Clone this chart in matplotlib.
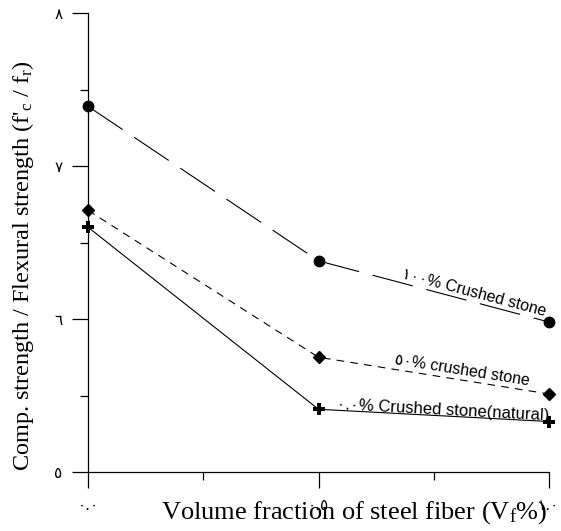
import numpy as np
import matplotlib
matplotlib.use("Agg")
import matplotlib.pyplot as plt

plt.rcParams["lines.scale_dashes"] = False
plt.rcParams["mathtext.fontset"] = "custom"
plt.rcParams["mathtext.rm"] = "Liberation Serif"
plt.rcParams["mathtext.it"] = "Liberation Serif:italic"

# Volume fraction of steel fiber (%)
fiber = [0.0, 0.5, 1.0]

# Compressive / flexural strength ratio for each aggregate mix
crushed_100 = [7.39, 6.38, 5.98]
crushed_50 = [6.71, 5.75, 5.51]
crushed_0 = [6.60, 5.41, 5.33]

series_labels = ["١٠٠% Crushed stone", "٥٠% crushed stone", "٠.٠% Crushed stone(natural)"]

x_ticks = [0.0, 0.5, 1.0]
x_ticklabels = ["٠.٠", "٠.٥", "١.٠"]
y_ticks = [5, 6, 7, 8]
y_ticklabels = ["٥", "٦", "٧", "٨"]

fig = plt.figure(figsize=(5.61, 5.31), dpi=100)
ax = fig.add_axes([88 / 561, 59 / 531, 461 / 561, 459 / 531])

lw = 0.8
ax.plot(fiber, crushed_100, color="black", lw=lw, marker="o", ms=7.5,
        dashes=(30, 10), clip_on=False, zorder=3)
ax.plot(fiber, crushed_50, color="black", lw=lw, marker="D", ms=6,
        dashes=(5.5, 4.5), clip_on=False, zorder=3)
ax.plot(fiber, crushed_0, color="black", lw=lw, marker="P", ms=8,
        mew=0, clip_on=False, zorder=3)

ax.set_xlim(0, 1.0)
ax.set_ylim(5, 8)

for s in ("top", "right"):
    ax.spines[s].set_visible(False)
for s in ("left", "bottom"):
    ax.spines[s].set_linewidth(0.9)

ax.set_xticks(x_ticks)
ax.set_xticklabels(x_ticklabels, family="DejaVu Sans", fontsize=11)
ax.set_xticks([0.25, 0.75], minor=True)
ax.set_yticks(y_ticks)
ax.set_yticklabels(y_ticklabels, family="DejaVu Sans", fontsize=11)
ax.set_yticks([5.5, 6.5, 7.5], minor=True)
ax.tick_params(which="major", direction="out", length=11.5, width=0.9)
ax.tick_params(axis="x", which="major", pad=7)
ax.tick_params(axis="y", which="major", pad=7)
ax.tick_params(which="minor", direction="out", length=6, width=0.9)

ax.set_xlabel("Volume fraction of steel fiber (V$_{\\rm f}$%)",
              family="Liberation Serif", fontsize=19)
ax.xaxis.set_label_coords(0.578, -0.06)
ax.set_ylabel("Comp. strength / Flexural strength (f$'_{\\rm c}$ / f$_{\\rm r}$)",
              family="Liberation Serif", fontsize=17.5)
ax.yaxis.set_label_coords(-0.113, 0.45)


def place_label(values, text, xc, offset, size):
    # angle of the last segment on screen, label rides along it
    p0 = ax.transData.transform((fiber[1], values[1]))
    p1 = ax.transData.transform((fiber[2], values[2]))
    ang = np.degrees(np.arctan2(p1[1] - p0[1], p1[0] - p0[0]))
    t = (xc - fiber[1]) / (fiber[2] - fiber[1])
    yc = values[1] + t * (values[2] - values[1])
    ax.annotate(text, xy=(xc, yc), xytext=(0, offset), textcoords="offset points",
                rotation=ang, rotation_mode="anchor", ha="center", va="center",
                family=["Liberation Sans", "DejaVu Sans"], fontsize=size)


place_label(crushed_100, series_labels[0], 0.837, 7, 11.5)
place_label(crushed_50, series_labels[1], 0.811, 7, 11.5)
place_label(crushed_0, series_labels[2], 0.77, 4, 12)

fig.savefig("out.png", dpi=100)
